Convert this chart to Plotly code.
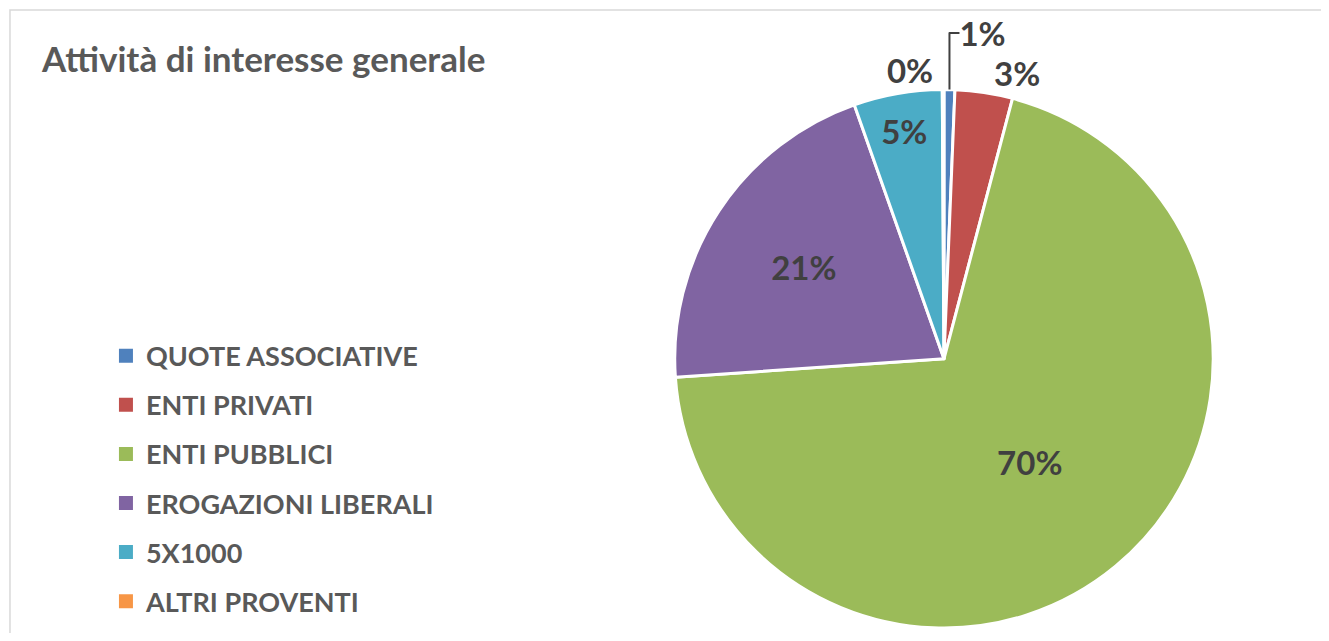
import plotly.graph_objects as go

categories = ["QUOTE ASSOCIATIVE", "ENTI PRIVATI", "ENTI PUBBLICI",
              "EROGAZIONI LIBERALI", "5X1000", "ALTRI PROVENTI"]
values = [0.65, 3.45, 69.8, 20.7, 5.3, 0.1]
colors = ["#4F81BD", "#C0504D", "#9BBB59", "#8064A2", "#4BACC6", "#F79646"]
text_pos = ["outside", "outside", "inside", "inside", "inside", "outside"]

FONT = "Lato"
fig = go.Figure()
fig.add_trace(go.Pie(
    labels=categories, values=values, sort=False, direction="clockwise",
    rotation=0, marker=dict(colors=colors, line=dict(color="white", width=3)),
    textposition=text_pos, texttemplate="<b>%{percent:.0%}</b>",
    insidetextorientation="horizontal",
    textfont=dict(family=FONT, size=33, color="#404040"),
    outsidetextfont=dict(family=FONT, size=33, color="#404040"),
    domain=dict(x=[0.5062, 0.9195], y=[0.0, 0.8685]),
    showlegend=False, hoverinfo="label+percent",
))
for c, col in zip(categories, colors):
    fig.add_trace(go.Scatter(
        x=[None], y=[None], mode="markers", name=f"<b>{c}</b>",
        marker=dict(symbol="square", size=14, color=col),
        legendgroup=c, showlegend=True,
    ))

fig.update_layout(
    width=1313, height=625,
    margin=dict(l=0, r=0, t=0, b=0),
    paper_bgcolor="white", plot_bgcolor="white",
    xaxis=dict(visible=False), yaxis=dict(visible=False),
    title=dict(text="<b>Attività di interesse generale</b>", x=0.0259, xanchor="left",
               y=0.917, yanchor="middle",
               font=dict(family=FONT, size=35, color="#595959")),
    legend=dict(x=0.0746, xanchor="left", y=0.478, yanchor="top",
                font=dict(family=FONT, size=27, color="#595959"),
                tracegroupgap=11, itemwidth=30, bgcolor="rgba(0,0,0,0)"),
    shapes=[dict(type="rect", xref="paper", yref="paper", x0=0.0015, x1=1.01,
                 y0=-0.01, y1=0.9968, line=dict(color="#D9D9D9", width=1.5))],
)
fig.write_html("out.html")
